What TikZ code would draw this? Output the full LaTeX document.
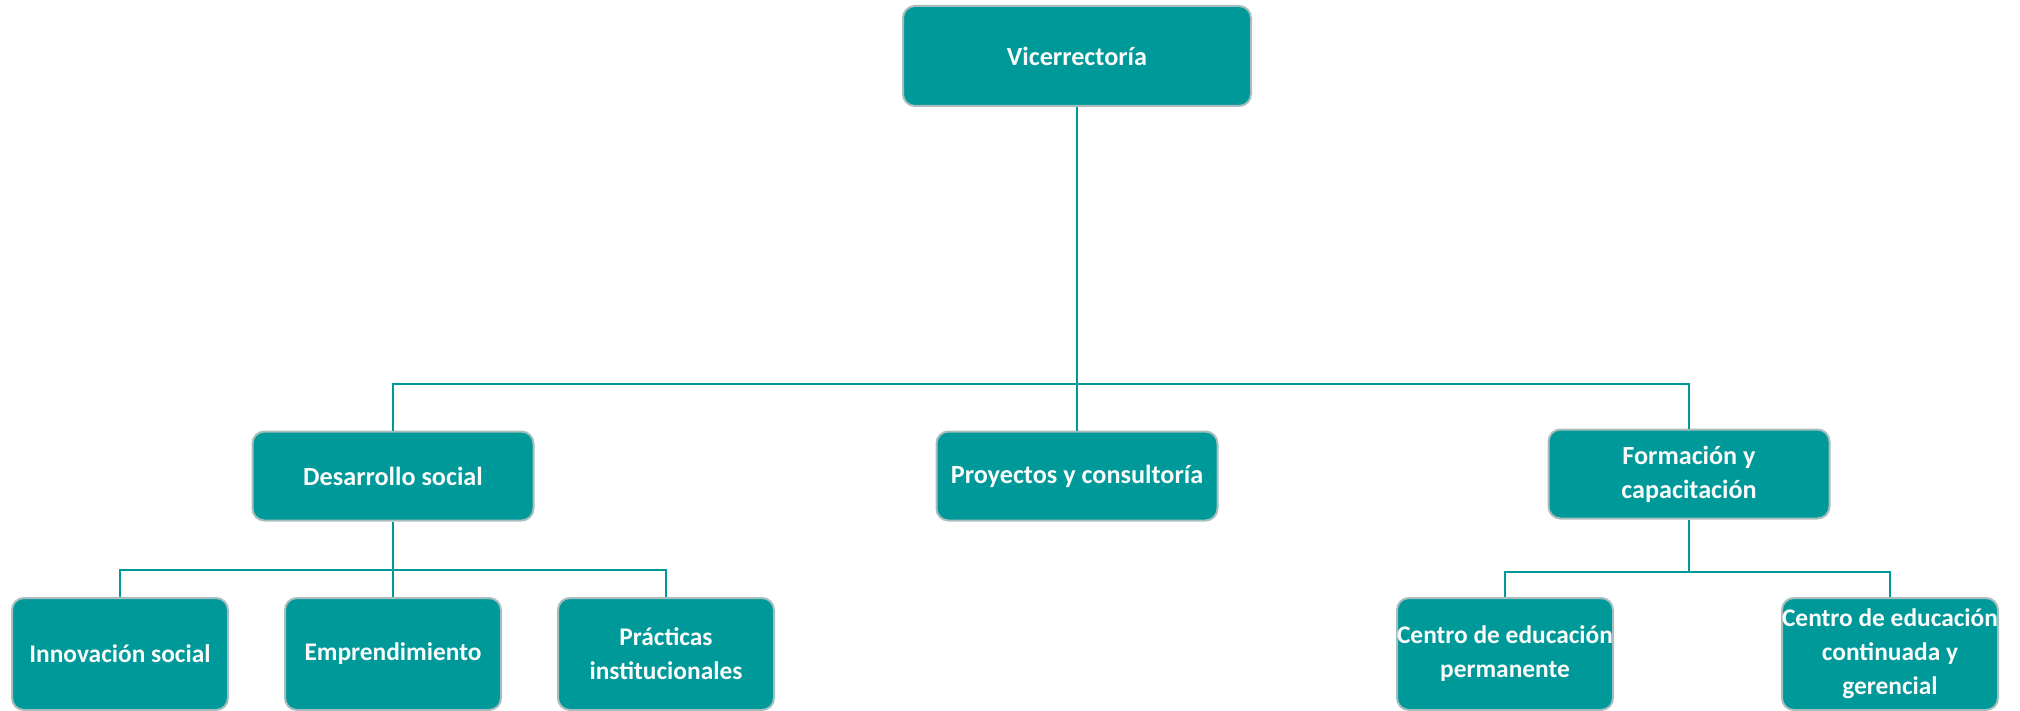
\documentclass[tikz,border=0pt]{standalone}
\usepackage{fontspec}
\setmainfont{Carlito}
\usetikzlibrary{positioning}

\definecolor{teal1}{RGB}{0,153,153}
\definecolor{edge1}{RGB}{168,190,190}

\begin{document}
\begin{tikzpicture}[
    x=0.5pt,y=-0.5pt,
    unit/.style={draw=edge1,fill=teal1,line width=1pt,rounded corners=6pt,
                 text=white!96!gray,align=center,inner sep=2pt,
                 font=\fontsize{13.1}{17}\selectfont\bfseries},
    top/.style={unit,minimum width=174pt,minimum height=50pt},
    area/.style={unit,minimum width=140.5pt,minimum height=44.5pt},
    sub/.style={unit,inner xsep=0pt,minimum width=108pt,minimum height=56pt,
                font=\fontsize{12.7}{17}\selectfont\bfseries},
    conn/.style={draw=teal1,line width=1.2pt},
]
\useasboundingbox (0,0) rectangle (2020,711);

% ---- Head ----------------------------------------------------------------
\node[top] (vice) at (1077,56) {Vicerrectoría};

% ---- Areas ---------------------------------------------------------------
\node[area] (des)  at (393,476)  {Desarrollo social};
\node[area] (proy) at (1077,476) {Proyectos y consultoría};
\node[area] (form) at (1689,474) {Formación y\\capacitación};

% ---- Units of Desarrollo social ------------------------------------------
\node[sub] (innov) at (120,654) {Innovación social};
\node[sub] (empr)  at (393,654) {Emprendimiento};
\node[sub] (prac)  at (666,654) {Prácticas\\institucionales};

% ---- Units of Formación y capacitación -----------------------------------
\node[sub] (cep) at (1505,654) {Centro de educación\\permanente};
\node[sub] (cec) at (1890,654) {Centro de educación\\continuada y\\gerencial};

% ---- Connectors ----------------------------------------------------------
\coordinate (busA) at (0,384);
\coordinate (busB) at (0,570);
\coordinate (busC) at (0,572);

\draw[conn] (vice.south) -- (proy.north);
\draw[conn] (vice.south|-busA) -| (des.north);
\draw[conn] (vice.south|-busA) -| (form.north);

\draw[conn] (des.south) -- (empr.north);
\draw[conn] (des.south|-busB) -| (innov.north);
\draw[conn] (des.south|-busB) -| (prac.north);

\draw[conn] (form.south) -- (form.south|-busC);
\draw[conn] (form.south|-busC) -| (cep.north);
\draw[conn] (form.south|-busC) -| (cec.north);

\end{tikzpicture}
\end{document}
